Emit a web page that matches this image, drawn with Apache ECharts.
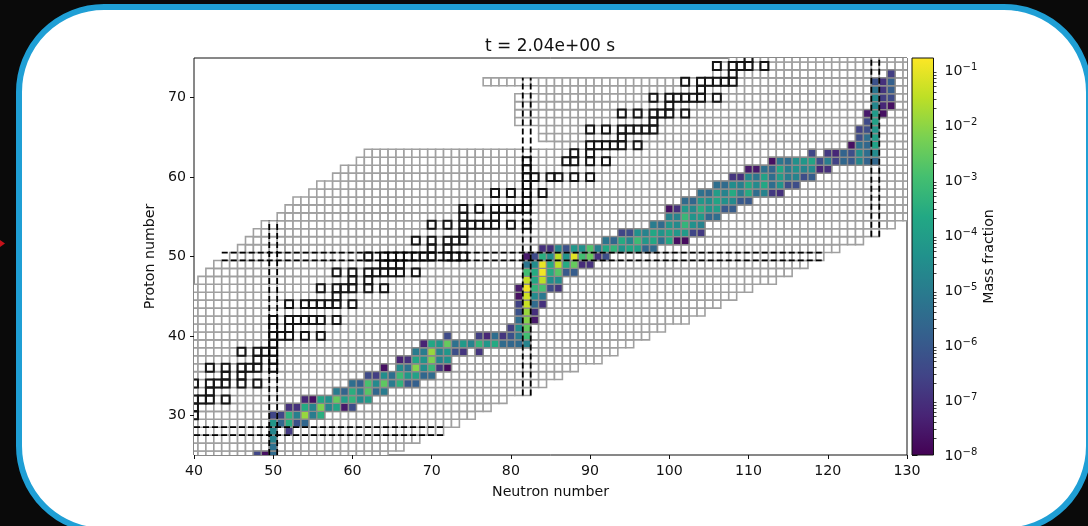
<!DOCTYPE html>
<html><head><meta charset="utf-8">
<style>
html,body{margin:0;padding:0;background:#0a0a0a;overflow:hidden;width:1088px;height:526px}
#frame{position:absolute;left:16px;top:4px;width:1064px;height:518px;border:6px solid #1f9fd5;border-radius:88px;background:#fff}
#c{position:absolute;left:0;top:0;width:1088px;height:526px}
</style>
<script src="https://cdn.jsdelivr.net/npm/echarts@6/dist/echarts.min.js"></script>
</head><body><div id="frame"></div><div id="c"></div>
<script>
const titleText = 't = 2.04e+00 s';
const xTicks = [40,50,60,70,80,90,100,110,120,130];
const yTicks = [30,40,50,60,70];
const cbarMajor = [-8,-7,-6,-5,-4,-3,-2,-1];
const cbarRange = [-8,-0.78];
// proton number, first neutron number, last neutron number
const networkRows = [
[25,40,64],[26,40,66],[27,40,68],[28,40,71],[29,40,73],[30,40,75],[31,40,77],[32,40,79],[33,40,82],[34,40,84],
[35,40,86],[36,40,88],[37,40,91],[38,40,93],[39,40,95],[40,40,97],[41,40,99],[42,40,102],[43,40,104],[44,40,106],
[45,40,108],[46,40,110],[47,41,113],[48,42,115],[49,43,117],[50,45,119],[51,46,121],[52,47,124],[53,48,126],[54,49,128],
[55,51,130],[56,52,130],[57,53,130],[58,55,130],[59,56,130],[60,58,130],[61,59,130],[62,61,130],[63,62,130],[64,86,130],
[65,84,130],[66,84,130],[67,81,130],[68,81,130],[69,81,130],[70,81,130],[71,84,130],[72,77,130],[73,106,130],[74,106,130],[75,108,130]];
// proton number, neutron numbers of the stable nuclei
const stableRows = [
[30,[40]],[31,[40]],[32,[40,41,42,44]],[33,[42]],[34,[40,42,43,44,46,48]],[35,[44,46]],[36,[42,44,46,47,48,50]],
[37,[48,50]],[38,[46,48,49,50]],[39,[50]],[40,[50,51,52,54,56]],[41,[50,52]],[42,[50,52,53,54,55,56,58]],
[44,[52,54,55,56,57,58,60]],[45,[58]],[46,[56,58,59,60,62,64]],[47,[60,62]],[48,[58,60,62,63,64,65,66,68]],
[49,[64,65,66]],[50,[62,64,65,66,67,68,69,70,72,73,74]],[51,[70,72]],[52,[68,70,72,73,74]],[53,[74]],
[54,[70,72,74,75,76,77,78,80,82]],[55,[74,78]],[56,[74,76,78,79,80,81,82]],[57,[82]],[58,[78,80,82,84]],[59,[82]],
[60,[82,83,85,86,88,90]],[61,[82]],[62,[82,87,88,90,92]],[63,[88,90]],[64,[90,91,92,93,94,96]],[65,[94]],
[66,[90,92,94,95,96,97,98]],[67,[98]],[68,[94,96,98,99,100,102]],[69,[100]],[70,[98,100,101,102,103,104,106]],
[71,[104]],[72,[102,104,105,106,107,108]],[73,[108]],[74,[106,108,109,110,112]],[75,[110]]];
// proton number, first neutron number, log10 mass fraction per neutron number
const massRows = [
[25,48,[-6.5,-7.7,-5.5]],[26,50,[-5.3]],[27,50,[-4.8]],[28,50,[-4.7,null,-6.8]],[29,50,[-4.2,-5.6,-3.5,-6.2,-5.6]],
[30,50,[-6.5,-6.5,-3.4,-4.9,-1.9,-5,-3.5]],[31,52,[-7,-7,-3.6,-4.8,-2.2,-4.8,-3.8,-7.5,-6.3]],
[32,54,[-7.2,-7.7,-3.8,-4.4,-2.5,-4,-3.3,-4.6,-4]],[33,58,[-5,-5.7,-3.5,-4.9,-2.7,-5.6,-5]],
[34,60,[-5.4,-5.8,-2.9,-4.6,-2.6,-5,-3.4,-6,-5.8]],[35,62,[-6.4,-6.7,-4.5,-5.4,-3.1,-4.2,-3.9,-5.6,-5.5]],
[36,64,[-7.7,null,-4.6,-5.3,-2.1,-4.5,-3.2,-6.9,-7.8]],[37,66,[-7.3,-7,-3.8,-4.3,-2.2,-4.8,-4.4]],
[38,68,[-5,-5,-1.9,-4.8,-4.2,-6.3,-6.9,null,-6.9]],[39,69,[-7.3,-3.7,-4.3,-2.5,-5.3,-4.1,-4.8,-3.3,-4.2,-3.6,-5.5,-5.6,-5.5,-4.8]],
[40,72,[-6.4,null,null,null,-6.7,-7.2,-5.4,-6.9,-6.2,-5,-3]],[41,80,[-6.7,-4.5,-2.5]],[42,81,[-5.4,-2.1,-7.5]],
[43,81,[-6.2,-1.9,-7]],[44,81,[-6.6,-1.4,-5.5,-7]],[45,81,[-7.7,-1.3,-4.6,-5.1]],[46,81,[-7.5,-0.9,-3.3,-2.9,-6.4,-6.9]],
[47,82,[-1.4,-3.7,-1.5,-4.5,-4.5]],[48,82,[-3,-3.6,-0.9,-3.6,-2.7,-6,-5.9]],[49,82,[-5.2,-4.5,-1,-3.6,-1.5,-3.6,-2.5,-7.1,-7]],
[50,82,[-7.5,-6.4,-3.5,-4.5,-1.5,-4.3,-1.1,-3,-2.5,-7,-6.3]],
[51,84,[-7,-7,-4.7,-6.2,-4.2,-4.4,-2.8,-4.9,-3.7,-3.3,-4.3,-3.7,-3.9,-5.6,-5.5]],
[52,92,[-5.2,-5.6,-3.6,-4.7,-3.1,-4.2,-3.7,-5.3,-3.7,-7.7,-7.8]],[53,94,[-6.5,-6.3,-4.4,-4.8,-3.7,-4.3,-3.8,-4.2,-4.1,-6.5,-6.8]],
[54,98,[-5,-5.5,-4.2,-4.6,-3.3,-4.4,-4.8]],[55,100,[-4.8,-4.8,-3.2,-4.3,-4.1,-5.6,-5.4]],
[56,100,[-7.7,-7,-4.2,-4.6,-3.5,-4.3,-4,-6,-5.9]],[57,102,[-5.5,-5.6,-4.2,-4.5,-3.8,-4.4,-4.6,-6,-6]],
[58,104,[-5.3,-5.5,-4,-4.8,-3.6,-5,-3.6,-5.4,-4.8,-6.8,-7]],[59,106,[-5.4,-5.5,-4.5,-4.9,-3.7,-4.6,-3.7,-5.4,-4.3,-6.3,-6.3]],
[60,108,[-6.9,-7,-4.7,-5.2,-3.9,-5.4,-4,-5,-4.8,-6.3,-5.9]],[61,110,[-7.5,-7.5,-5.3,-5.7,-3.7,-5,-4.4,-4.8,-4.6,-7.2,-7]],
[62,113,[-7.7,-5.2,-5.5,-4.4,-4.2,-3.8,-6.3,-5,-6.6,-5.6,-6,-4.7,-5.7,-5.6]],[63,118,[-6.5,null,-6.8,-7.2,-5.7,-6.3,-4.5,-5.4,-4.6]],
[64,123,[-7.7,-5.3,-5.6,-3.9]],[65,124,[-6.3,-5.4,-4]],[66,124,[-6.6,-6.3,-4.2]],[67,125,[-6.4,-3.9]],[68,125,[-7.5,-4.1,-7.7]],
[69,126,[-4.7,-7.2,-7.7]],[70,126,[-4.6,-6.7,-6.4]],[71,126,[-5.2,-6.9,-5.9]],[72,126,[-6.2,-7,-5.8]],[73,128,[-6.7]]];
// dashed closed-shell outlines: [N,Z] end points
const magicLines = [
[[49.5,25],[49.5,54.5]],[[50.5,25],[50.5,54.5]],
[[81.5,32.5],[81.5,72.5]],[[82.5,32.5],[82.5,72.5]],
[[125.5,52.5],[125.5,75]],[[126.5,52.5],[126.5,75]],
[[40,27.5],[71.5,27.5]],[[40,28.5],[71.5,28.5]],
[[43.5,49.5],[119.5,49.5]],[[43.5,50.5],[119.5,50.5]]];
const viridis = ['#440154','#482475','#414487','#355f8d','#2a788e','#21918c','#22a884','#44bf70','#7ad151','#bddf26','#fde725'];

const networkCells = [];
networkRows.forEach(([z,a,b]) => { for (let n=a;n<=b;n++) networkCells.push([n,z]); });
const stableCells = [];
stableRows.forEach(([z,ns]) => ns.forEach(n => stableCells.push([n,z])));
const massCells = [];
massRows.forEach(([z,a,vs]) => vs.forEach((v,i) => { if (v!==null) massCells.push([a+i,z,v]); }));
const cbarMinor = [];
for (let k=-8;k<=-2;k++) for (let m=2;m<=9;m++) cbarMinor.push(k+Math.log10(m));

function cellRender(style){
  return function(params, api){
    const p0 = api.coord([api.value(0)-0.5, api.value(1)+0.5]);
    const p1 = api.coord([api.value(0)+0.5, api.value(1)-0.5]);
    const s = Object.assign({}, style);
    if (style.fill === 'visual') s.fill = api.visual('color');
    return {type:'rect', shape:{x:p0[0],y:p0[1],width:p1[0]-p0[0],height:p1[1]-p0[1]}, style:s};
  };
}
const font = 'DejaVu Sans';
const chart = echarts.init(document.getElementById('c'), null, {renderer:'canvas'});
const txt = {color:'#111', fontFamily:font, fontSize:14.2};
const option = {
  animation:false,
  backgroundColor:'transparent',
  title:{text:titleText,left:545,top:33,textAlign:'center',textStyle:{fontFamily:font,fontSize:17,fontWeight:'normal',color:'#111'}},
  grid:[
    {left:194,top:58,width:713,height:397,show:true,borderColor:'#111',borderWidth:1,backgroundColor:'#fff',containLabel:false},
    {left:912,top:58,width:21.5,height:397,show:false}
  ],
  xAxis:[
    {type:'value',gridIndex:0,min:40,max:130,name:'Neutron number',nameLocation:'middle',nameGap:30,
     nameTextStyle:txt,splitLine:{show:false},axisLine:{show:false},
     axisTick:{show:true,length:4,customValues:xTicks,lineStyle:{color:'#111'}},
     axisLabel:Object.assign({customValues:xTicks,margin:9},txt)},
    {type:'value',gridIndex:1,min:0,max:1,show:false}
  ],
  yAxis:[
    {type:'value',gridIndex:0,min:25,max:75,name:'Proton number',nameLocation:'middle',nameGap:36,
     nameTextStyle:txt,splitLine:{show:false},axisLine:{show:false},
     axisTick:{show:true,length:4,customValues:yTicks,lineStyle:{color:'#111'}},
     axisLabel:Object.assign({customValues:yTicks,margin:8},txt)},
    {type:'value',gridIndex:1,position:'right',min:cbarRange[0],max:cbarRange[1],
     name:'Mass fraction',nameLocation:'middle',nameGap:49,nameRotate:90,nameTextStyle:txt,
     splitLine:{show:false},axisLine:{show:false},
     axisTick:{show:true,length:5.5,customValues:cbarMajor,lineStyle:{color:'#111'}},
     axisLabel:{customValues:cbarMajor,margin:11,color:'#111',
       formatter:v=>'{b|10}{s|\u2212'+Math.abs(v)+'}',
       rich:{b:{fontFamily:font,fontSize:14.2,color:'#111',verticalAlign:'bottom',lineHeight:16},
             s:{fontFamily:font,fontSize:10,color:'#111',verticalAlign:'top',lineHeight:16}}}},
    {type:'value',gridIndex:1,position:'right',min:cbarRange[0],max:cbarRange[1],
     splitLine:{show:false},axisLine:{show:false},axisLabel:{show:false},
     axisTick:{show:true,length:3,customValues:cbarMinor,lineStyle:{color:'#111',width:0.8}}}
  ],
  visualMap:{show:false,seriesIndex:1,dimension:2,min:cbarRange[0],max:cbarRange[1],inRange:{color:viridis}},
  graphic:[{type:'polygon',silent:true,shape:{points:[[0,240],[5,243.5],[0,247]]},style:{fill:'#c4121a'}}],
  series:[
    {type:'custom',name:'network',xAxisIndex:0,yAxisIndex:0,clip:true,z:2,data:networkCells,
     renderItem:cellRender({fill:'#fff',stroke:'#a0a0a0',lineWidth:1.6}),silent:true},
    {type:'custom',name:'mass',xAxisIndex:0,yAxisIndex:0,clip:true,z:3,data:massCells,
     renderItem:cellRender({fill:'visual',stroke:'#8a8a8a',lineWidth:1.4}),silent:true},
    {type:'custom',name:'stable',xAxisIndex:0,yAxisIndex:0,clip:true,z:4,data:stableCells,
     renderItem:cellRender({fill:'none',stroke:'#151515',lineWidth:2}),silent:true}
  ].concat(magicLines.map(seg=>({
    type:'line',xAxisIndex:0,yAxisIndex:0,data:seg,showSymbol:false,symbol:'none',clip:true,z:5,silent:true,
    lineStyle:{color:'#000',width:1.8,type:[6,3]}
  }))).concat([
    {type:'custom',name:'colorbar',xAxisIndex:1,yAxisIndex:1,z:3,silent:true,clip:false,data:[[0,cbarRange[0],1,cbarRange[1]]],
     renderItem:function(params,api){
       const p0=api.coord([api.value(0),api.value(3)]), p1=api.coord([api.value(2),api.value(1)]);
       const stops=viridis.map((c,i)=>({offset:1-i/(viridis.length-1),color:c}));
       return {type:'rect',shape:{x:p0[0],y:p0[1],width:p1[0]-p0[0],height:p1[1]-p0[1]},
         style:{fill:new echarts.graphic.LinearGradient(0,0,0,1,stops),stroke:'#111',lineWidth:1}};
     }}
  ])
};
chart.setOption(option);
</script></body></html>
